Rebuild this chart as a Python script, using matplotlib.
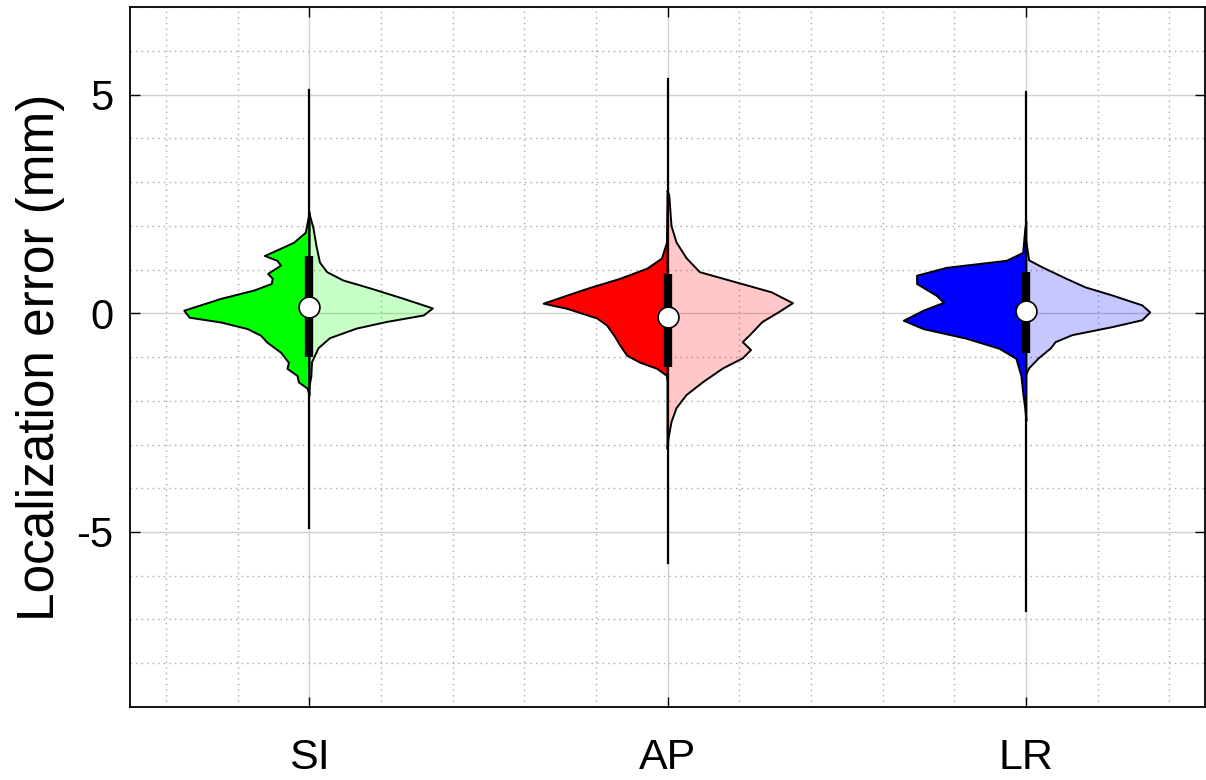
#violino dividido com erro de localizacao por eixo
import numpy as np
import matplotlib
matplotlib.use('Agg')
import matplotlib.pyplot as plt
from matplotlib.ticker import MultipleLocator

plt.rcParams['font.family'] = ['Liberation Sans', 'DejaVu Sans']
plt.rcParams['axes.unicode_minus'] = False

categorias = ['SI', 'AP', 'LR']
cores = ['#00ff00', '#ff0000', '#0000ff']

#contorno do lado esquerdo (cor cheia) e direito (cor clara) - y em mm, largura em unidades do eixo x
si_y_esq = [2.31, 1.85, 1.62, 1.32, 1.21, 1.10, 0.91, 0.80, 0.68, 0.53, 0.34, 0.07, -0.09, -0.20, -0.35,
            -0.50, -0.66, -0.89, -1.12, -1.26, -1.42, -1.57, -1.71, -1.87]
si_w_esq = [0.0, 0.011, 0.044, 0.125, 0.09, 0.08, 0.116, 0.103, 0.106, 0.155, 0.247, 0.35, 0.335, 0.247, 0.173,
            0.136, 0.118, 0.08, 0.058, 0.062, 0.034, 0.03, 0.006, 0.0]
si_y_dir = [2.30, 1.94, 1.55, 1.16, 0.94, 0.75, 0.57, 0.34, 0.11, -0.05, -0.20, -0.35, -0.57, -0.80, -1.12, -1.45, -1.70]
si_w_dir = [0.0, 0.012, 0.02, 0.03, 0.05, 0.095, 0.17, 0.26, 0.345, 0.32, 0.216, 0.133, 0.058, 0.026, 0.008, 0.006, 0.0]

ap_y_esq = [2.76, 1.62, 1.26, 1.03, 0.80, 0.57, 0.34, 0.23, 0.11, -0.11, -0.27, -0.50, -0.73, -0.96, -1.12, -1.26,
            -1.42, -1.57]
ap_w_esq = [0.0, 0.003, 0.017, 0.058, 0.133, 0.225, 0.308, 0.347, 0.28, 0.197, 0.17, 0.15, 0.133, 0.114, 0.077, 0.03,
            0.003, 0.0]
ap_y_dir = [2.80, 2.69, 2.00, 1.62, 1.26, 0.94, 0.71, 0.48, 0.23, 0.02, -0.20, -0.50, -0.66, -0.84, -1.03, -1.26,
            -1.57, -1.87, -2.17, -2.49, -2.85, -3.10]
ap_w_dir = [0.0, 0.005, 0.011, 0.025, 0.053, 0.09, 0.19, 0.29, 0.35, 0.31, 0.265, 0.23, 0.21, 0.233, 0.21, 0.155,
            0.1, 0.053, 0.025, 0.011, 0.003, 0.0]

lr_y_esq = [2.10, 1.94, 1.39, 1.21, 1.05, 0.87, 0.68, 0.41, 0.25, 0.07, -0.16, -0.35, -0.57, -0.80, -1.03, -1.42,
            -1.87, -2.17, -2.45]
lr_w_esq = [0.0, 0.003, 0.009, 0.055, 0.222, 0.305, 0.305, 0.25, 0.23, 0.287, 0.342, 0.287, 0.167, 0.075, 0.028, 0.014,
            0.008, 0.003, 0.0]
lr_y_dir = [1.70, 1.55, 1.21, 1.05, 0.80, 0.59, 0.41, 0.18, 0.02, -0.16, -0.32, -0.50, -0.66, -0.80, -1.03, -1.26, -1.42]
lr_w_dir = [0.0, 0.003, 0.009, 0.046, 0.11, 0.167, 0.24, 0.325, 0.347, 0.325, 0.24, 0.13, 0.083, 0.07, 0.036, 0.009, 0.0]

#minimo, maximo, quartis e mediana
minimos = [-4.9, -5.7, -6.8]
maximos = [5.1, 5.35, 5.05]
q1 = [-1.0, -1.23, -0.91]
q3 = [1.32, 0.89, 0.94]
medianas = [0.14, -0.09, 0.05]

lados_esq = [(si_y_esq, si_w_esq), (ap_y_esq, ap_w_esq), (lr_y_esq, lr_w_esq)]
lados_dir = [(si_y_dir, si_w_dir), (ap_y_dir, ap_w_dir), (lr_y_dir, lr_w_dir)]

fig = plt.figure(figsize=(12.06, 7.8), dpi=100)
ax = fig.add_axes([0.1078, 0.0936, 0.8914, 0.8974])

for i, nome in enumerate(categorias):
    pos = i + 1
    ax.plot([pos, pos], [minimos[i], maximos[i]], color='black', lw=1.6, zorder=2)
    y, w = np.array(lados_esq[i][0]), np.array(lados_esq[i][1])
    ax.fill_betweenx(y, pos - w, pos, facecolor=cores[i], edgecolor='black', lw=1.4, zorder=3)
    y, w = np.array(lados_dir[i][0]), np.array(lados_dir[i][1])
    ax.fill_betweenx(y, pos, pos + w, facecolor=cores[i], alpha=0.22, edgecolor='none', zorder=3)
    ax.fill_betweenx(y, pos, pos + w, facecolor='none', edgecolor='black', lw=1.4, zorder=3)
    ax.plot([pos, pos], [q1[i], q3[i]], color='black', lw=6, solid_capstyle='butt', zorder=4)
    ax.plot(pos, medianas[i], 'o', ms=15, mfc='white', mec='black', mew=1.2, zorder=5)

ax.set_xlim(0.5, 3.5)
ax.set_ylim(-9, 7)
ax.set_xticks([1, 2, 3])
ax.set_xticklabels(categorias)
ax.set_yticks([-5, 0, 5])
ax.xaxis.set_minor_locator(MultipleLocator(0.2))
ax.yaxis.set_minor_locator(MultipleLocator(1))
ax.grid(which='major', color='#d0d0d0', lw=1.0, zorder=0)
ax.grid(which='minor', color='#a8a8a8', lw=1.0, ls=(0, (1, 3)), zorder=0)
ax.set_axisbelow(True)
ax.tick_params(which='major', direction='in', length=7.5, width=1.0, top=True, right=True)
ax.tick_params(which='minor', length=0)
ax.tick_params(axis='y', labelsize=30, pad=12)
ax.tick_params(axis='x', labelsize=31, pad=22)
for s in ax.spines.values():
    s.set_linewidth(1.3)
ax.set_ylabel('Localization error (mm)', fontsize=37, labelpad=8)

fig.savefig('out.png', dpi=100, facecolor='white')
